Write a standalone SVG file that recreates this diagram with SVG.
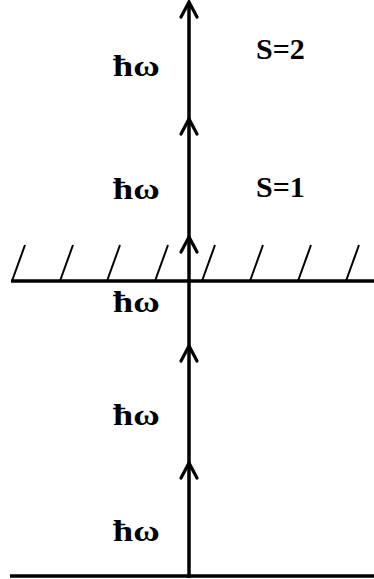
<svg xmlns="http://www.w3.org/2000/svg" width="374" height="579" viewBox="0 0 374 579">
<style>
text{font-family:'Liberation Serif','Times New Roman',serif;font-weight:bold;font-size:30px;fill:#000}
.hw{font-size:29px}
.ln{stroke:#000;stroke-width:3.5;fill:none}
.h{stroke:#000;stroke-width:2;fill:none}
.ah{stroke:#000;stroke-width:3.2;fill:none;stroke-linecap:round;stroke-linejoin:miter}
</style>
<rect width="374" height="579" fill="#fff"/>
<g id="connectors">
<line class="ln" x1="189" y1="2" x2="189" y2="578"/>
<path class="ah" d="M181,17 L189,2 L197,17"/>
<path class="ah" d="M181,134 L189,119 L197,134"/>
<path class="ah" d="M181,252 L189,237 L197,252"/>
<path class="ah" d="M181,361 L189,346 L197,361"/>
<path class="ah" d="M181,478 L189,463 L197,478"/>
</g>
<g id="boundary">
<line class="ln" x1="11" y1="281" x2="374" y2="281"/>
<path class="h" d="M12,281 L25,245 M60,281 L73,245 M107,281 L120,245 M155,281 L168,245 M202,281 L215,245 M250,281 L263,245 M298,281 L311,245 M346,281 L359,245"/>
</g>
<g id="ground">
<line class="ln" x1="10" y1="576" x2="374" y2="576"/>
</g>
<g id="labels">
<text class="hw" transform="translate(113,76) scale(1.25,1)">ħω</text>
<text class="hw" transform="translate(113,199) scale(1.25,1)">ħω</text>
<text class="hw" transform="translate(113,312) scale(1.25,1)">ħω</text>
<text class="hw" transform="translate(113,425) scale(1.25,1)">ħω</text>
<text class="hw" transform="translate(113,541) scale(1.25,1)">ħω</text>
<text x="256" y="59">S=2</text>
<text x="256" y="197">S=1</text>
</g>
</svg>
